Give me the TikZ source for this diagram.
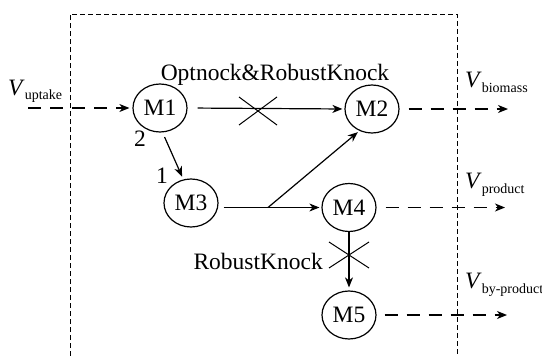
\documentclass[tikz,border=0pt]{standalone}
\usepackage{fontspec}
\setmainfont{Liberation Serif}
\usetikzlibrary{shapes.geometric,arrows.meta,calc}
% flux label: italic V with an upright subscript
\newcommand\fluxlbl[1]{\textit{V}\raisebox{-5pt}{\fontsize{14}{16}\selectfont #1}}
\begin{document}
\begin{tikzpicture}[x=1pt,y=-1pt,
  met/.style={ellipse,draw,line width=1.2pt,minimum width=54pt,minimum height=48pt,
    inner sep=0pt,font=\fontsize{23.5}{28}\selectfont},
  flow/.style={line width=1.2pt,-{Stealth[length=10pt,width=8pt,inset=3pt]}},
  exch/.style={flow,dash pattern=on 13pt off 9pt},
  lbl/.style={inner sep=0pt,font=\fontsize{23.5}{28}\selectfont},
  knock/.style={line width=1pt},
  border/.style={line width=1pt,dash pattern=on 5pt off 3pt}]
\useasboundingbox (0,0) rectangle (542,356);

% cell boundary, open at the bottom
\draw[border] (70,356) -- (70,14) -- (457,14) -- (457,356);

% metabolites
\node[met] (M1) at (160,108) {M1};
\node[met] (M2) at (372,109) {M2};
\node[met] (M3) at (191,203) {M3};
\node[met] (M4) at (349,207.5) {M4};
\node[met] (M5) at (349,315) {M5};

% exchange fluxes
\coordinate (inU) at (28,108);
\coordinate (outB) at (508,109);
\coordinate (outP) at (505,207.5);
\coordinate (outY) at (507,315);
\node[lbl,anchor=base west] (vU) at (8,95) {\fluxlbl{uptake}};
\node[lbl,anchor=base west] (vB) at (465,88) {\fluxlbl{biomass}};
\node[lbl,anchor=base west] (vP) at (465,188) {\fluxlbl{product}};
\node[lbl,anchor=base west] (vY) at (465,288) {\fluxlbl{by-product}};

\draw[exch,shorten >=3pt] (inU) -- (M1.west);
\draw[exch,shorten <=9pt] (M2.east) -- (outB);
\draw[exch,shorten <=9pt] (M4.east) -- (outP);
\draw[exch,shorten <=8pt] (M5.east) -- (outY);

% internal reactions
\draw[flow,shorten <=10pt,shorten >=2pt] (M1.east) -- (M2.west);
\draw[flow,shorten <=5pt,shorten >=3pt] (M1.-84) -- (M3.108);
\coordinate (m3out) at (M3.east |- M4.west);
\coordinate (br) at (268,207.5);
\draw[flow,shorten <=5pt,shorten >=2pt] (m3out) -- (M4.west);
\draw[flow,shorten >=2pt] (br) -- (M2.-120);
\draw[flow,shorten >=3pt] (M4.south) -- (M5.north);

% branch priorities
\node[lbl,anchor=base] (p2) at (140,146) {2};
\node[lbl,anchor=base] (p1) at (162,183) {1};

% knockouts
\coordinate (k1) at (258,111);
\draw[knock] ($(k1)+(-19,-14)$) -- ($(k1)+(19,14)$)
             ($(k1)+(-19,14)$) -- ($(k1)+(19,-14)$);
\node[lbl,anchor=base] (t1) at (275,81) {Optnock\&RobustKnock};

\coordinate (k2) at (349,255);
\draw[knock] ($(k2)+(-20,-13)$) -- ($(k2)+(20,13)$)
             ($(k2)+(-20,13)$) -- ($(k2)+(20,-13)$);
\node[lbl,anchor=base east] (t2) at (323,269) {RobustKnock};
\end{tikzpicture}
\end{document}
